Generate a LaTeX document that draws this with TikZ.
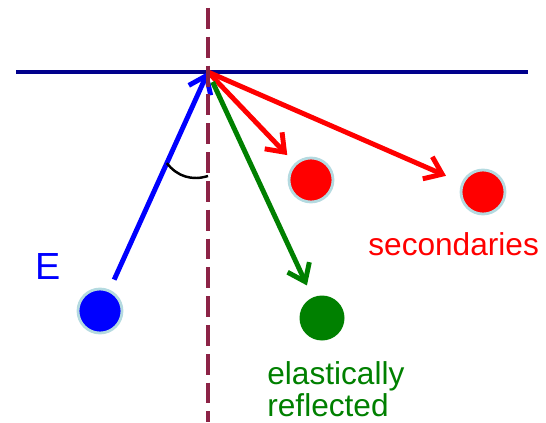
\documentclass[tikz,border=0pt]{standalone}
\usepackage{fontspec}
\setmainfont{Liberation Sans}
\usetikzlibrary{arrows.meta, calc}
\definecolor{SurfNavy}{RGB}{0,0,140}
\definecolor{NormalMaroon}{RGB}{140,35,70}
\definecolor{RimCyan}{RGB}{180,218,224}
\definecolor{ElGreen}{RGB}{0,128,0}

\begin{document}
\begin{tikzpicture}[x=0.02cm, y=-0.02cm,
	ball/.style={circle, draw=RimCyan, line width=1.6pt, minimum size=0.88cm, inner sep=0pt},
	ray/.style={line width=2.8pt, -{Straight Barb[length=3.2mm, width=4.8mm]}},
	lbl/.style={inner sep=0pt, font=\fontsize{18}{16.4}\selectfont}]
	\useasboundingbox (0,0) rectangle (546,422);

	% surface and normal
	\coordinate (hit) at (208,72);
	\coordinate (surfL) at (16,72);
	\coordinate (surfR) at (528,72);
	\coordinate (nTop) at (208,8);
	\coordinate (nBot) at (208,422);
	\draw[SurfNavy, line width=2.6pt] (surfL) -- (surfR);

	% balls
	\node[ball, fill=blue] (inc) at (100,311) {};
	\node[ball, fill=red] (sec1) at (311,180) {};
	\node[ball, fill=red] (sec2) at (483,192) {};
	\node[ball, fill=ElGreen, draw=none, minimum size=0.9cm] (el) at (322,318) {};

	% incoming and outgoing rays
	\draw[ray, blue, shorten <=0.22cm] (inc) -- (hit);
	\draw[ray, red, shorten >=0.22cm] (hit) -- (sec1);
	\draw[ray, red, shorten >=0.34cm] (hit) -- (sec2);
	\draw[ray, ElGreen, shorten <=0.22cm, shorten >=0.24cm] (hit) -- (el);

	% angle mark
	\coordinate (a1) at ($(hit)!2cm!(inc.center)$);
	\coordinate (a2) at ($(hit)!2.08cm!(nBot)$);
	\draw[line width=1.4pt] (a1) to[bend right=35] (a2);

	\draw[NormalMaroon, line width=1.9pt, dash pattern=on 11.9pt off 4.5pt] (nTop) -- (nBot);

	% labels
	\node[lbl, anchor=base west, text=blue, font=\fontsize{21.5}{24}\selectfont] (elbl) at (35,279) {E};
	\node[lbl, anchor=base west, text=red] (seclbl) at (368,255) {secondaries};
	\node[lbl, anchor=base west, text=ElGreen, align=left] (ellbl) at (267,416) {elastically\\reflected};
\end{tikzpicture}
\end{document}
